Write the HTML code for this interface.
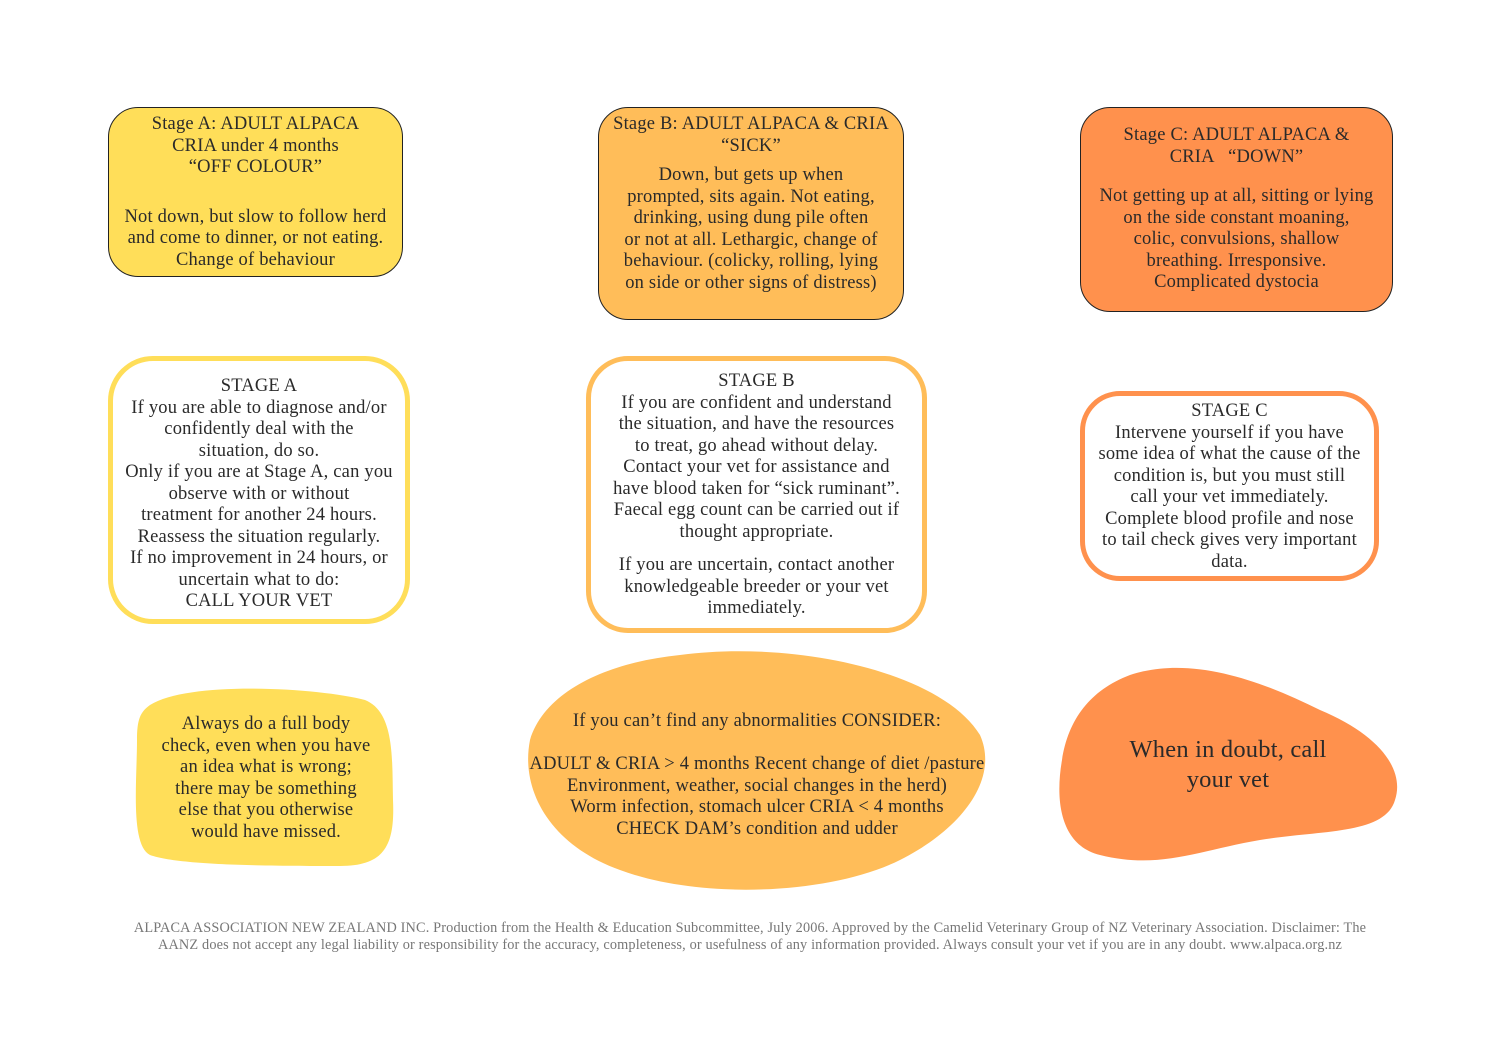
<!DOCTYPE html>
<html><head><meta charset="utf-8"><style>
body{margin:0;width:1500px;height:1060px;background:#fff;position:relative;overflow:hidden;font-family:"Liberation Serif",serif;color:#2a2a2a}
.b{position:absolute;box-sizing:border-box;text-align:center;font-size:18.5px;line-height:21.5px;white-space:nowrap;letter-spacing:0.2px}
svg{position:absolute;left:0;top:0}
</style></head><body>
<svg width="1500" height="1060">
<path d="M150,705 C190,680 320,688 365,700 C395,712 392,760 393,800 C395,845 385,866 340,866 C280,866 180,866 150,855 C130,845 137,780 137,740 C137,720 140,712 150,705 Z" fill="#FFDE59"/>
<path d="M680,655 C790,640 940,670 980,735 C1000,780 960,830 900,860 C830,895 700,900 620,870 C550,845 520,790 530,740 C545,690 610,662 680,655 Z" fill="#FFBD59"/>
<path d="M1130,675 C1190,655 1260,680 1320,710 C1380,735 1405,770 1395,800 C1385,835 1320,830 1260,840 C1200,850 1160,870 1100,855 C1060,845 1055,800 1062,760 C1068,720 1090,690 1130,675 Z" fill="#FF914D"/>
</svg>
<div class="b" style="left:108px;top:107px;width:295px;height:170px;background:#FFDE59;border:1.5px solid #222;border-radius:30px;padding-top:6px">Stage A: ADULT ALPACA<br>CRIA under 4 months<br>“OFF COLOUR”<div style="height:28px"></div>Not down, but slow to follow herd<br>and come to dinner, or not eating.<br>Change of behaviour</div>
<div class="b" style="left:598px;top:107px;width:306px;height:213px;background:#FFBD59;border:1.5px solid #222;border-radius:30px;padding-top:6px">Stage B: ADULT ALPACA &amp; CRIA<br>“SICK”<div style="height:8px"></div>Down, but gets up when<br>prompted, sits again. Not eating,<br>drinking, using dung pile often<br>or not at all. Lethargic, change of<br>behaviour. (colicky, rolling, lying<br>on side or other signs of distress)</div>
<div class="b" style="left:1080px;top:107px;width:313px;height:205px;background:#FF914D;border:1.5px solid #222;border-radius:30px;padding-top:17px">Stage C: ADULT ALPACA &amp;<br>CRIA &nbsp;&nbsp;“DOWN”<br><div style="height:18px"></div>Not getting up at all, sitting or lying<br>on the side constant moaning,<br>colic, convulsions, shallow<br>breathing. Irresponsive.<br>Complicated dystocia</div>
<div class="b" style="left:108px;top:356px;width:302px;height:268px;border:5px solid #FFDE59;border-radius:45px;padding-top:15px">STAGE A<br>If you are able to diagnose and/or<br>confidently deal with the<br>situation, do so.<br>Only if you are at Stage A, can you<br>observe with or without<br>treatment for another 24 hours.<br>Reassess the situation regularly.<br>If no improvement in 24 hours, or<br>uncertain what to do:<br>CALL YOUR VET</div>
<div class="b" style="left:586px;top:356px;width:341px;height:277px;border:5px solid #FFBD59;border-radius:42px;padding-top:10px">STAGE B<br>If you are confident and understand<br>the situation, and have the resources<br>to treat, go ahead without delay.<br>Contact your vet for assistance and<br>have blood taken for “sick ruminant”.<br>Faecal egg count can be carried out if<br>thought appropriate.<div style="height:12px"></div>If you are uncertain, contact another<br>knowledgeable breeder or your vet<br>immediately.</div>
<div class="b" style="left:1080px;top:391px;width:299px;height:190px;border:5px solid #FF914D;border-radius:40px;padding-top:5px">STAGE C<br>Intervene yourself if you have<br>some idea of what the cause of the<br>condition is, but you must still<br>call your vet immediately.<br>Complete blood profile and nose<br>to tail check gives very important<br>data.</div>
<div class="b" style="left:137px;top:714px;width:258px">Always do a full body<br>check, even when you have<br>an idea what is wrong;<br>there may be something<br>else that you otherwise<br>would have missed.</div>
<div class="b" style="left:527px;top:711px;width:460px">If you can’t find any abnormalities CONSIDER:<br><br>ADULT &amp; CRIA &gt; 4 months Recent change of diet /pasture<br>Environment, weather, social changes in the herd)<br>Worm infection, stomach ulcer CRIA &lt; 4 months<br>CHECK DAM’s condition and udder</div>
<div class="b" style="left:1060px;top:735px;width:336px;font-size:24.5px;line-height:30px">When in doubt, call<br>your vet</div>
<div class="b" style="left:0;top:920px;width:1500px;font-size:14.3px;line-height:17px;color:#777;letter-spacing:0.15px">ALPACA ASSOCIATION NEW ZEALAND INC. Production from the Health &amp; Education Subcommittee, July 2006. Approved by the Camelid Veterinary Group of NZ Veterinary Association. Disclaimer: The<br>AANZ does not accept any legal liability or responsibility for the accuracy, completeness, or usefulness of any information provided. Always consult your vet if you are in any doubt. www.alpaca.org.nz</div>
</body></html>
